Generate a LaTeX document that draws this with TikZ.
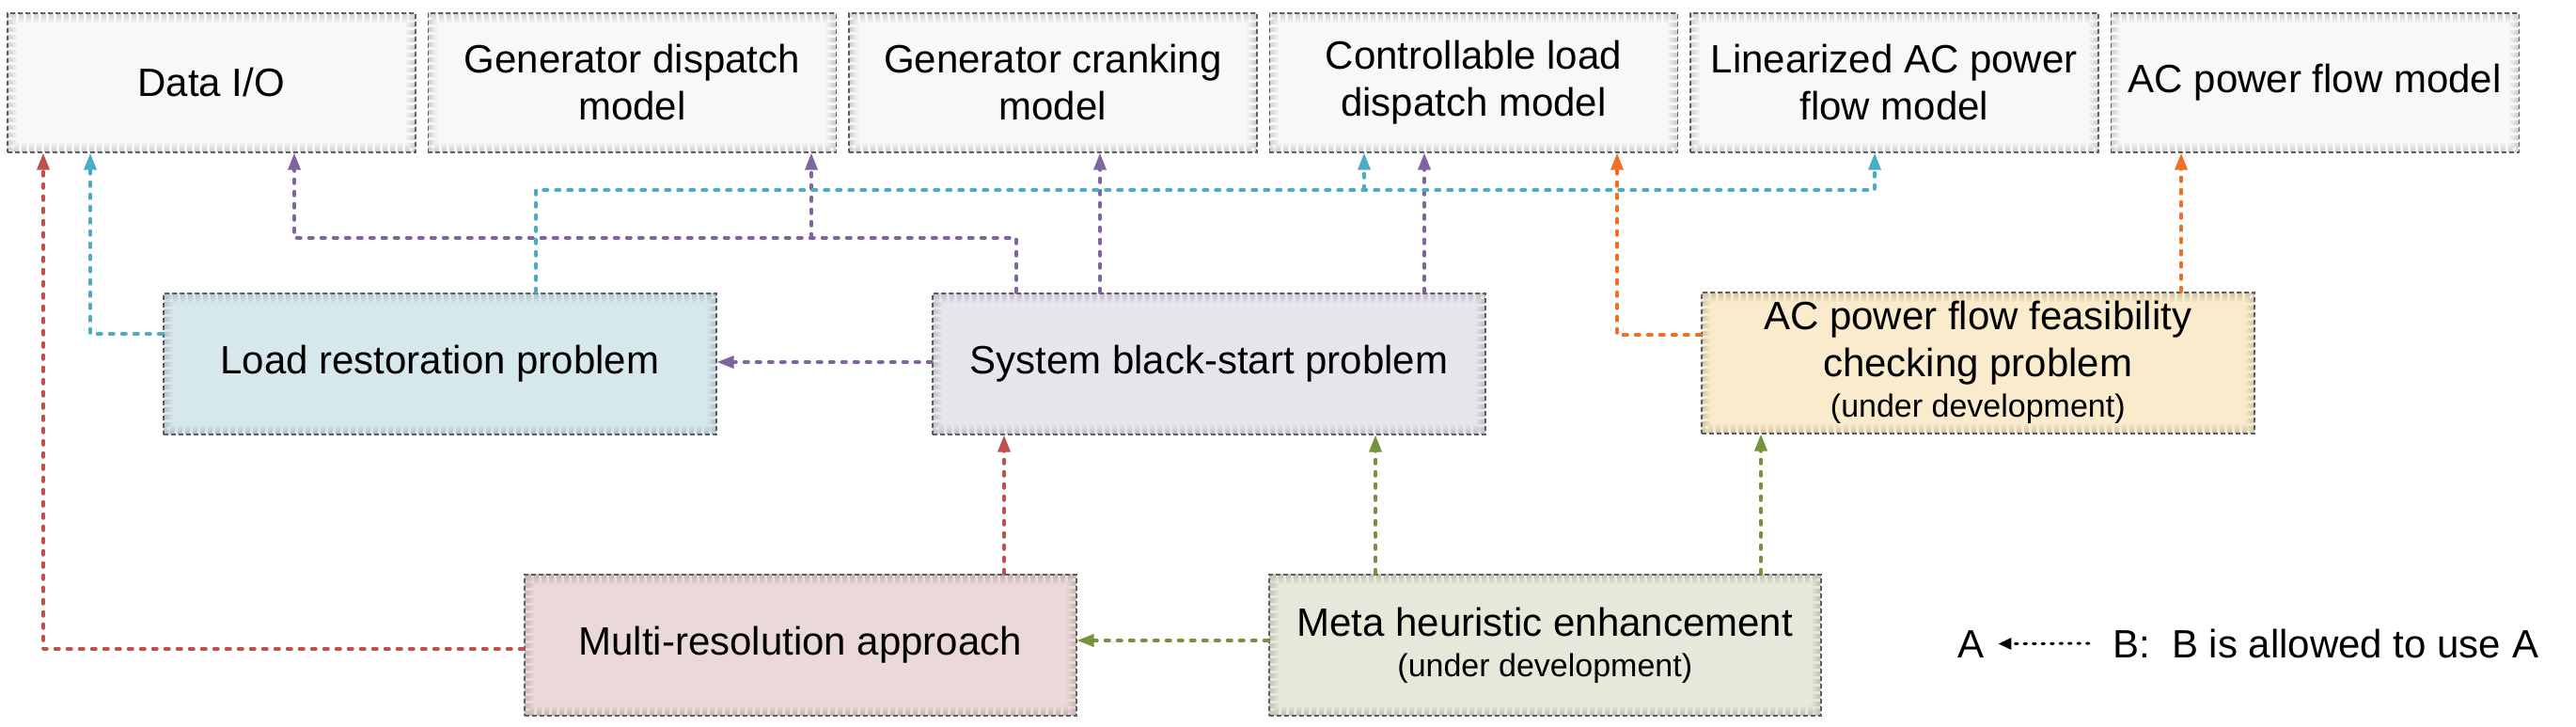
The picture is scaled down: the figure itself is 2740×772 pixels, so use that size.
\documentclass[tikz,border=0pt]{standalone}
\usepackage{fontspec}
\setmainfont{Liberation Sans}
\usetikzlibrary{arrows.meta,calc}
\definecolor{boxline}{HTML}{5E5E5E}
\definecolor{topfill}{HTML}{F8F8F8}
\definecolor{loadfill}{HTML}{D7E8EC}
\definecolor{sysfill}{HTML}{E7E5EC}
\definecolor{feasfill}{HTML}{F9EBCB}
\definecolor{multifill}{HTML}{EBD8D8}
\definecolor{metafill}{HTML}{E6E9DA}
\definecolor{redl}{HTML}{C0504D}
\definecolor{cyanl}{HTML}{4BACC6}
\definecolor{purpl}{HTML}{8064A2}
\definecolor{orangel}{HTML}{EE7028}
\definecolor{greenl}{HTML}{76923C}
\newcommand\boxfont{\fontsize{42}{50}\selectfont}
\newcommand\devfont{\fontsize{34}{40}\selectfont}
\tikzset{
  inshadow/.style={path picture={
    \foreach \w in {4,8,12,16,20}{
      \draw[line width=\w pt, black, opacity=0.03]
        (path picture bounding box.south west) rectangle (path picture bounding box.north east);
    }}},
  box/.style={draw=boxline, line width=1.6pt, dash pattern=on 5pt off 3pt,
    inner sep=0pt, align=center, font=\boxfont, anchor=north west, inshadow},
  topbox/.style={box, fill=topfill, minimum width=434pt, minimum height=148pt},
  midbox/.style={box, minimum width=588pt, minimum height=150pt},
  conn/.style={line width=3.5pt, dash pattern=on 4.5pt off 8.5pt, line cap=round,
    line join=round, -{Triangle[length=18pt,width=13pt]}},
  legarrow/.style={black, line width=3pt, dash pattern=on 2.5pt off 7pt, line cap=round,
    -{Triangle[length=14pt,width=12pt]}},
  legtext/.style={font=\boxfont, inner sep=0pt, anchor=base west}
}
\begin{document}
\begin{tikzpicture}[x=1pt,y=-1pt]
\useasboundingbox (0,0) rectangle (2740,772);
\fill[white] (0,0) rectangle (2740,772);

% top row
\node[topbox] (dataio)   at (7,13)      {Data I/O};
\node[topbox] (gendisp)  at (454.5,13)  {Generator dispatch\\model};
\node[topbox] (gencrank) at (902,13)    {Generator cranking\\model};
\node[topbox] (ctrl)     at (1349.5,13) {Controllable load\\dispatch model};
\node[topbox] (linac)    at (1797,13)   {Linearized AC power\\flow model};
\node[topbox] (acpf)     at (2244.5,13) {AC power flow model};

% middle row
\node[midbox, fill=loadfill] (load) at (173,311) {Load restoration problem};
\node[midbox, fill=sysfill]  (sys)  at (991,311) {System black-start problem};
\node[midbox, fill=feasfill] (feas) at (1809,310)
  {AC power flow feasibility\\checking problem\\[-7pt]{\devfont (under development)}};

% bottom row
\node[midbox, fill=multifill, minimum width=587pt] (multi) at (557,610) {Multi-resolution approach};
\node[midbox, fill=metafill, minimum width=587pt]  (meta)  at (1349,610)
  {Meta heuristic enhancement\\[-7pt]{\devfont (under development)}};

% helper coordinates
\coordinate (r1) at (46,690);
\coordinate (r2) at (1068,0);
\coordinate (c1) at (96,355);
\coordinate (c2) at (570,202);
\coordinate (c3) at (1994,0);
\coordinate (c4) at (1451,0);
\coordinate (p1) at (1081,253);
\coordinate (p2) at (313,0);
\coordinate (p3) at (863,0);
\coordinate (p4) at (1170,0);
\coordinate (p5) at (1515,0);
\coordinate (p6) at (0,385);
\coordinate (o1) at (1720,356);
\coordinate (o2) at (2320,0);
\coordinate (g1) at (0,681);
\coordinate (g2) at (1463,0);
\coordinate (g3) at (1873,0);

% purple
\draw[conn, purpl] (sys.north -| p1) -- (p1) -| (dataio.south -| p2);
\draw[conn, purpl] (p1 -| p3) -- (gendisp.south -| p3);
\draw[conn, purpl] (sys.north -| p4) -- (gencrank.south -| p4);
\draw[conn, purpl] (sys.north -| p5) -- (ctrl.south -| p5);
\draw[conn, purpl] (sys.west |- p6) -- (load.east |- p6);

% cyan
\draw[conn, cyanl] (load.west |- c1) -| (dataio.south -| c1);
\draw[conn, cyanl] (load.north -| c2) -- (c2) -| (linac.south -| c3);
\draw[conn, cyanl] (c2 -| c4) -- (ctrl.south -| c4);

% red
\draw[conn, redl] (multi.west |- r1) -| (dataio.south -| r1);
\draw[conn, redl] (multi.north -| r2) -- (sys.south -| r2);

% orange
\draw[conn, orangel] (feas.west |- o1) -| (ctrl.south -| o1);
\draw[conn, orangel] (feas.north -| o2) -- (acpf.south -| o2);

% green
\draw[conn, greenl] (meta.west |- g1) -- (multi.east |- g1);
\draw[conn, greenl] (meta.north -| g2) -- (sys.south -| g2);
\draw[conn, greenl] (meta.north -| g3) -- (feas.south -| g3);

% legend
\node[legtext] (legA) at (2082,699) {A};
\node[legtext] (legB) at (2247,699) {B:\ \ B is allowed to use A};
\draw[legarrow, shorten <=25pt, shorten >=15pt] (legB.west) -- (legA.east);
\end{tikzpicture}
\end{document}
